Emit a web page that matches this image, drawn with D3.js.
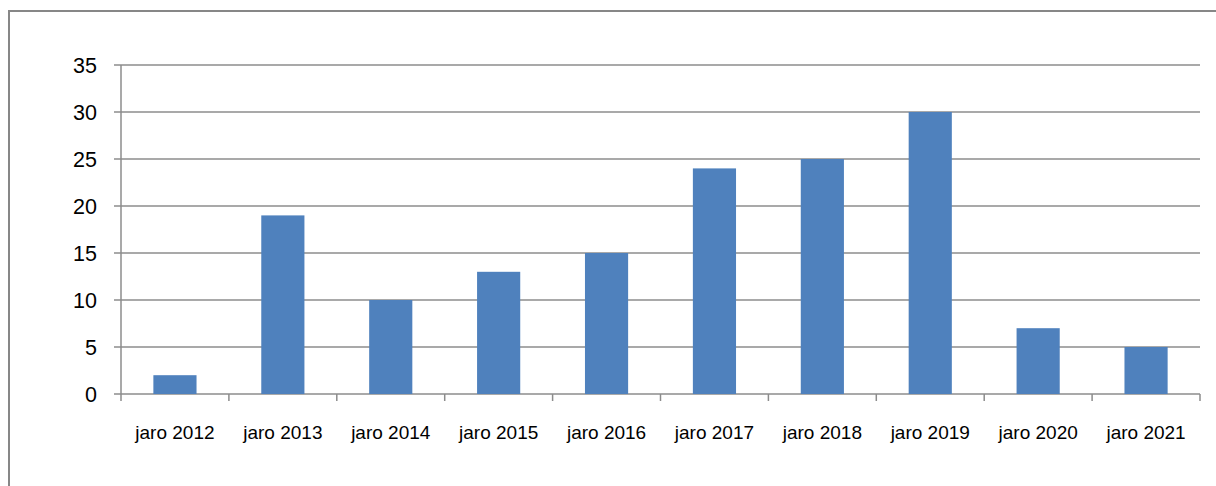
<!DOCTYPE html>
<html>
<head>
<meta charset="utf-8">
<script src="https://cdn.jsdelivr.net/npm/d3@7"></script>
<style>
  body { margin: 0; background: #fff; }
  text { font-family: "Liberation Sans", Arial, sans-serif; fill: #000; }
</style>
</head>
<body>
<svg id="chart" width="1216" height="486"></svg>
<script>
// categories and values
var categories = ["jaro 2012", "jaro 2013", "jaro 2014", "jaro 2015", "jaro 2016",
                  "jaro 2017", "jaro 2018", "jaro 2019", "jaro 2020", "jaro 2021"];
var values = [2, 19, 10, 13, 15, 24, 25, 30, 7, 5];
var yTicks = [0, 5, 10, 15, 20, 25, 30, 35];

var svg = d3.select("#chart");

// outer frame of the chart area
svg.append("rect")
  .attr("x", 9).attr("y", 11)
  .attr("width", 1220).attr("height", 490)
  .attr("fill", "none")
  .attr("stroke", "#878787")
  .attr("stroke-width", 2);

// plot area (not named "top", that clashes with window.top)
var plotL = 121, plotR = 1200, plotT = 65, plotB = 394;

var x = d3.scaleBand().domain(categories).range([plotL, plotR]).paddingInner(0.6).paddingOuter(0.3);
var xCat = d3.scaleBand().domain(categories).range([plotL, plotR]);
var y = d3.scaleLinear().domain([0, 35]).range([plotB, plotT]);

var g = svg.append("g");

// horizontal gridlines with left tick stubs
g.selectAll("line.grid")
  .data(yTicks)
  .enter().append("line")
  .attr("class", "grid")
  .attr("x1", plotL - 7)
  .attr("x2", plotR)
  .attr("y1", function(d) { return y(d); })
  .attr("y2", function(d) { return y(d); })
  .attr("stroke", "#8c8c8c")
  .attr("stroke-width", 1.5);

// bars
g.selectAll("rect.bar")
  .data(values)
  .enter().append("rect")
  .attr("class", "bar")
  .attr("x", function(d, i) { return x(categories[i]); })
  .attr("y", function(d) { return y(d); })
  .attr("width", x.bandwidth())
  .attr("height", function(d) { return y(0) - y(d); })
  .attr("fill", "#4f81bd");

// y axis line
g.append("line")
  .attr("x1", plotL).attr("x2", plotL)
  .attr("y1", plotT).attr("y2", plotB)
  .attr("stroke", "#8c8c8c").attr("stroke-width", 1.5);

// x axis tick marks between categories
var xTickPos = categories.map(function(c) { return xCat(c); }).concat([plotR]);
g.selectAll("line.xtick")
  .data(xTickPos)
  .enter().append("line")
  .attr("class", "xtick")
  .attr("x1", function(d) { return d; })
  .attr("x2", function(d) { return d; })
  .attr("y1", plotB)
  .attr("y2", plotB + 7)
  .attr("stroke", "#8c8c8c").attr("stroke-width", 1.5);

// y labels
g.selectAll("text.ylab")
  .data(yTicks)
  .enter().append("text")
  .attr("class", "ylab")
  .attr("x", 97)
  .attr("y", function(d) { return y(d); })
  .attr("dy", "0.36em")
  .attr("text-anchor", "end")
  .style("font-size", "21.5px")
  .text(function(d) { return d; });

// x labels
g.selectAll("text.xlab")
  .data(categories)
  .enter().append("text")
  .attr("class", "xlab")
  .attr("x", function(d) { return xCat(d) + xCat.bandwidth() / 2; })
  .attr("y", 432)
  .attr("dy", "0.36em")
  .attr("text-anchor", "middle")
  .style("font-size", "19px")
  .text(function(d) { return d; });
</script>
</body>
</html>
